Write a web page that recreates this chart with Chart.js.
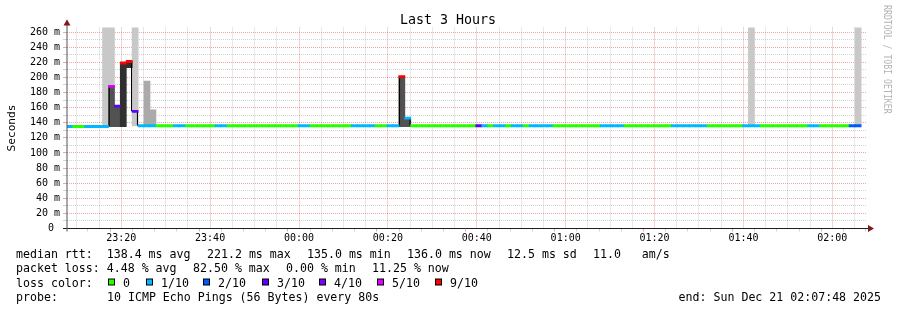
<!DOCTYPE html>
<html>
<head>
<meta charset="utf-8">
<title>Last 3 Hours</title>
<script src="https://cdn.jsdelivr.net/npm/chart.js@4.4.1/dist/chart.umd.min.js"></script>
<style>
  html, body { margin: 0; padding: 0; background: #fff; }
  #wrap { width: 897px; height: 310px; }
</style>
</head>
<body>
<div id="wrap"><canvas id="graph" width="897" height="310"></canvas></div>
<script>
// smokeping style graph - median rtt coloured by loss, smoke in grey

// time axis: minutes after 23:00, one probe round every 80s
const START_MIN = 7.8;          // 23:07:48
const SPAN_MIN = 180;
const STEP_MIN = 80 / 60;

// median rtt per round (ms)
const medianMs = [
  135, 135, 135, 135, 135, 135, 135, 188, 162, 219,
  221, 155, 136, 136, 136, 136, 136, 136, 136, 136,
  136, 136, 136, 136, 136, 136, 136, 136, 136, 136,
  136, 136, 136, 136, 136, 136, 136, 136, 136, 136,
  136, 136, 136, 136, 136, 136, 136, 136, 136, 136,
  136, 136, 136, 136, 136, 136, 201, 146, 136, 136,
  136, 136, 136, 136, 136, 136, 136, 136, 136, 136,
  136, 136, 136, 136, 136, 136, 136, 136, 136, 136,
  136, 136, 136, 136, 136, 136, 136, 136, 136, 136,
  136, 136, 136, 136, 136, 136, 136, 136, 136, 136,
  136, 136, 136, 136, 136, 136, 136, 136, 136, 136,
  136, 136, 136, 136, 136, 136, 136, 136, 136, 136,
  136, 136, 136, 136, 136, 136, 136, 136, 136, 136,
  136, 136, 136, 136
];

// lost pings out of 10 per round
const lossTenths = [
  1, 0, 0, 1, 1, 1, 1, 5, 3, 9,
  9, 3, 1, 1, 1, 0, 0, 0, 1, 1,
  0, 0, 0, 0, 0, 1, 1, 0, 0, 0,
  0, 0, 0, 0, 0, 0, 0, 0, 0, 1,
  1, 0, 0, 0, 0, 0, 0, 0, 1, 1,
  1, 1, 0, 0, 1, 1, 9, 1, 0, 0,
  0, 0, 0, 0, 0, 0, 0, 0, 0, 3,
  1, 0, 1, 1, 0, 1, 1, 0, 1, 1,
  1, 1, 0, 0, 0, 0, 0, 0, 0, 0,
  1, 1, 1, 1, 0, 0, 0, 0, 0, 0,
  0, 0, 1, 1, 1, 1, 1, 1, 0, 0,
  0, 0, 0, 0, 1, 1, 1, 0, 0, 0,
  0, 0, 0, 0, 0, 1, 1, 0, 0, 0,
  0, 0, 2, 2
];

// smoke: rounds with a ping far off the scale (light), medium and dark spread
const lightSmokeIdx = [6, 7, 11, 115, 133];
const lightSmokeLoMs = [135, 135, 136, 136, 136];
const lightSmokeHiMs = [266, 266, 266, 266, 266];

const midSmokeIdx = [13, 14];
const midSmokeLoMs = [136, 136];
const midSmokeHiMs = [195, 157];

const darkSmokeIdx = [7, 8, 56, 57];
const darkSmokeLoMs = [135, 135, 135, 135];
const darkSmokeHiMs = [188, 162, 201, 146];

const darkerSmokeIdx = [9, 10];
const darkerSmokeLoMs = [135, 213];
const darkerSmokeHiMs = [219, 221];

// steps of the median outlined in black
const riseIdx = [7, 56];
const fallIdx = [10, 11, 57];

const rttStats = ["median rtt:  138.4 ms avg", "221.2 ms max", "135.0 ms min", "136.0 ms now", "12.5 ms sd", "11.0   am/s"];
const lossStats = ["packet loss: 4.48 % avg", "82.50 % max", "0.00 % min", "11.25 % now"];
const lossLevels = [0, 1, 2, 3, 4, 5, 9];
const lossLabels = ["0", "1/10", "2/10", "3/10", "4/10", "5/10", "9/10"];

const LOSS_COLORS = { 0: "#26ff00", 1: "#00b8ff", 2: "#0059ff", 3: "#5e00ff", 4: "#7e00ff", 5: "#dd00ff", 9: "#ff0000" };
const MONO = '"DejaVu Sans Mono", monospace';

const sampleX = i => START_MIN + (i + 0.5) * STEP_MIN;
const ranges = (idx, lo, hi) => idx.map((i, k) => ({ x: sampleX(i), y: [lo[k], hi[k]] }));

function clock(min) {
    const h = (23 + Math.floor(min / 60)) % 24;
    const m = ((min % 60) + 60) % 60;
    return String(h).padStart(2, "0") + ":" + String(m).padStart(2, "0");
}

const HALF_LINE = 1.35; // half of the 2px median line, in ms

const datasets = [
    {
        label: "median",
        data: medianMs.map((m, i) => ({ x: sampleX(i), y: [m - HALF_LINE, m + HALF_LINE] })),
        backgroundColor: ctx => LOSS_COLORS[lossTenths[ctx.dataIndex]],
        order: 0
    },
    {
        label: "rise",
        data: riseIdx.map(i => ({ x: sampleX(i), y: [medianMs[i - 1], medianMs[i]] })),
        backgroundColor: "rgba(0,0,0,0)",
        borderColor: "#000",
        borderWidth: { left: 1.2, right: 0, top: 0, bottom: 0 },
        borderSkipped: false,
        inflateAmount: 0,
        order: 1
    },
    {
        label: "fall",
        data: fallIdx.map(i => ({ x: sampleX(i), y: [medianMs[i + 1], medianMs[i]] })),
        backgroundColor: "rgba(0,0,0,0)",
        borderColor: "#000",
        borderWidth: { left: 0, right: 1.2, top: 0, bottom: 0 },
        borderSkipped: false,
        inflateAmount: 0,
        order: 1
    },
    { label: "darker", data: ranges(darkerSmokeIdx, darkerSmokeLoMs, darkerSmokeHiMs), backgroundColor: "#303030", order: 2 },
    { label: "dark", data: ranges(darkSmokeIdx, darkSmokeLoMs, darkSmokeHiMs), backgroundColor: "#525252", order: 2 },
    { label: "mid", data: ranges(midSmokeIdx, midSmokeLoMs, midSmokeHiMs), backgroundColor: "#aaaaaa", order: 3 },
    { label: "light", data: ranges(lightSmokeIdx, lightSmokeLoMs, lightSmokeHiMs), backgroundColor: "#c8c8c8", order: 4 }
];

const MAJOR = "rgba(222,79,79,0.5)";
const MINOR = "rgba(143,143,143,0.4)";
const isMajor = v => v % 20 === 0;

// rrdtool draws its grid dotted: do it by hand under the datasets
const dottedGrid = {
    id: "dottedGrid",
    beforeDatasetsDraw(chart) {
        const { ctx, chartArea: a, scales } = chart;
        ctx.save();
        ctx.lineWidth = 1;
        ctx.setLineDash([1, 1]);
        scales.x.ticks.forEach(t => {
            const px = Math.floor(scales.x.getPixelForValue(t.value)) + 0.5;
            ctx.strokeStyle = isMajor(t.value) ? MAJOR : MINOR;
            ctx.beginPath();
            ctx.moveTo(px, a.top);
            ctx.lineTo(px, a.bottom);
            ctx.stroke();
        });
        scales.y.ticks.forEach(t => {
            if (t.value === 0) return;
            const py = Math.floor(scales.y.getPixelForValue(t.value)) + 0.5;
            ctx.strokeStyle = isMajor(t.value) ? MAJOR : MINOR;
            ctx.beginPath();
            ctx.moveTo(a.left, py);
            ctx.lineTo(a.right, py);
            ctx.stroke();
        });
        ctx.restore();
    }
};

// titles, axes with arrows, legend block
const rrdDecor = {
    id: "rrdDecor",
    afterDraw(chart) {
        const { ctx, chartArea: a } = chart;
        ctx.save();

        // axes
        ctx.lineWidth = 1;
        ctx.strokeStyle = "#1f1f1f";
        ctx.beginPath();
        ctx.moveTo(a.left - 4, a.bottom);
        ctx.lineTo(a.right + 1, a.bottom);
        ctx.stroke();
        ctx.strokeStyle = "#555";
        ctx.beginPath();
        ctx.moveTo(a.left, a.bottom + 3);
        ctx.lineTo(a.left, a.top - 7);
        ctx.stroke();

        ctx.fillStyle = "#801818";
        ctx.beginPath();
        ctx.moveTo(a.left - 3.5, a.top - 2);
        ctx.lineTo(a.left + 3.5, a.top - 2);
        ctx.lineTo(a.left, a.top - 8);
        ctx.closePath();
        ctx.fill();
        ctx.beginPath();
        ctx.moveTo(a.right + 1, a.bottom - 3.5);
        ctx.lineTo(a.right + 1, a.bottom + 3.5);
        ctx.lineTo(a.right + 7, a.bottom);
        ctx.closePath();
        ctx.fill();

        // title
        ctx.fillStyle = "#000";
        ctx.font = "13.3px " + MONO;
        ctx.textAlign = "center";
        ctx.textBaseline = "alphabetic";
        ctx.fillText("Last 3 Hours", 448, 24);

        // vertical label
        ctx.save();
        ctx.translate(15, (a.top + a.bottom) / 2);
        ctx.rotate(-Math.PI / 2);
        ctx.font = "11.2px " + MONO;
        ctx.fillText("Seconds", 0, 0);
        ctx.restore();

        // watermark
        ctx.save();
        ctx.translate(884, 5);
        ctx.rotate(Math.PI / 2);
        ctx.scale(0.76, 1);
        ctx.fillStyle = "#b4b4b4";
        ctx.font = "10.8px " + MONO;
        ctx.textAlign = "left";
        ctx.fillText("RRDTOOL / TOBI OETIKER", 0, 0);
        ctx.restore();

        // legend
        ctx.font = "11.6px " + MONO;
        ctx.textAlign = "left";
        ctx.fillStyle = "#000";
        const L1 = 258, L2 = 272, L3 = 286.5, L4 = 300.5;
        const rttX = [16, 207, 307, 407, 507, 593];
        rttStats.forEach((s, k) => ctx.fillText(s, rttX[k], L1));

        const lossX = [16, 193, 286, 372];
        lossStats.forEach((s, k) => ctx.fillText(s, lossX[k], L2));

        ctx.fillText("loss color:", 16, L3);
        const boxX = [108, 146, 203, 262, 319, 377, 435];
        lossLevels.forEach((lv, k) => {
            ctx.fillStyle = "#000";
            ctx.fillRect(boxX[k], 278.5, 7, 7);
            ctx.fillStyle = LOSS_COLORS[lv];
            ctx.fillRect(boxX[k] + 1, 279.5, 5, 5);
            ctx.fillStyle = "#000";
            ctx.fillText(lossLabels[k], boxX[k] + 15, L3);
        });

        ctx.fillText("probe:", 16, L4);
        ctx.fillText("10 ICMP Echo Pings (56 Bytes) every 80s", 107, L4);
        ctx.textAlign = "right";
        ctx.fillText("end: Sun Dec 21 02:07:48 2025", 881, L4);

        ctx.restore();
    }
};

new Chart(document.getElementById("graph"), {
    type: "bar",
    data: { datasets },
    options: {
        responsive: false,
        animation: false,
        devicePixelRatio: 1,
        layout: { padding: { top: 27.5, right: 30, left: 0, bottom: 0 } },
        datasets: { bar: { grouped: false, barPercentage: 1, categoryPercentage: 1, inflateAmount: 0.4 } },
        plugins: { legend: { display: false }, tooltip: { enabled: false }, title: { display: false } },
        scales: {
            x: {
                type: "linear",
                offset: false,
                min: START_MIN,
                max: START_MIN + SPAN_MIN,
                afterBuildTicks: ax => {
                    const t = [];
                    for (let m = Math.ceil(START_MIN / 5) * 5; m <= START_MIN + SPAN_MIN; m += 5) t.push({ value: m });
                    ax.ticks = t;
                },
                afterFit: ax => { ax.height = 81.5; },
                ticks: {
                    autoSkip: false, maxRotation: 0, padding: 1, color: "#000",
                    font: { family: MONO, size: 10 },
                    callback: v => (isMajor(v) ? clock(v) : "")
                },
                grid: {
                    drawOnChartArea: false,
                    tickColor: c => (c.tick && isMajor(c.tick.value) ? MAJOR : MINOR),
                    lineWidth: 1, tickLength: 3
                },
                border: { display: false }
            },
            y: {
                min: 0,
                max: 266,
                afterBuildTicks: ax => {
                    const t = [];
                    for (let v = 0; v <= 260; v += 10) t.push({ value: v });
                    ax.ticks = t;
                },
                afterFit: ax => { ax.width = 67; },
                ticks: {
                    autoSkip: false, padding: 3, color: "#000",
                    font: { family: MONO, size: 10 },
                    callback: v => (v % 20 ? "" : v === 0 ? "0 " : v + " m")
                },
                grid: {
                    drawOnChartArea: false,
                    tickColor: c => (c.tick && isMajor(c.tick.value) ? MAJOR : MINOR),
                    lineWidth: 1, tickLength: 4
                },
                border: { display: false }
            }
        }
    },
    plugins: [dottedGrid, rrdDecor]
});
</script>
</body>
</html>
